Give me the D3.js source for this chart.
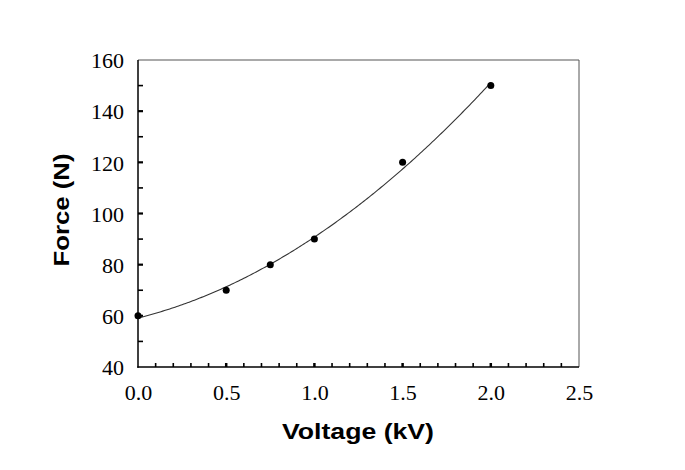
<!DOCTYPE html>
<html>
<head>
<meta charset="utf-8">
<script src="https://cdn.jsdelivr.net/npm/d3@7"></script>
<style>
  html, body { margin: 0; padding: 0; background: #fff; }
  svg { display: block; }
</style>
</head>
<body>
<svg id="chart" width="685" height="470"></svg>
<script>
// Data
const voltage = [0.0, 0.5, 0.75, 1.0, 1.5, 2.0];   // kV
const force   = [60, 70, 80, 90, 120, 150];          // N
const xTickValues = [0.0, 0.5, 1.0, 1.5, 2.0, 2.5];
const xTickLabels = ["0.0", "0.5", "1.0", "1.5", "2.0", "2.5"];
const yTickValues = [40, 60, 80, 100, 120, 140, 160];
const yTickLabels = ["40", "60", "80", "100", "120", "140", "160"];
const xTitle = "Voltage (kV)";
const yTitle = "Force (N)";

const svg = d3.select("#chart");
const L = 138, R = 579, T = 60, B = 367;

const x = d3.scaleLinear().domain([0, 2.5]).range([L, R]);
const y = d3.scaleLinear().domain([40, 160]).range([B, T]);

// Quadratic least-squares trendline fitted to the data points
function quadFit(xs, ys) {
  let s = [0,0,0,0,0], t = [0,0,0];
  xs.forEach((xi, i) => {
    for (let k = 0; k < 5; k++) s[k] += Math.pow(xi, k);
    for (let k = 0; k < 3; k++) t[k] += ys[i] * Math.pow(xi, k);
  });
  const A = [[s[0], s[1], s[2], t[0]], [s[1], s[2], s[3], t[1]], [s[2], s[3], s[4], t[2]]];
  for (let i = 0; i < 3; i++) {
    for (let j = i + 1; j < 3; j++) {
      const f = A[j][i] / A[i][i];
      for (let k = i; k < 4; k++) A[j][k] -= f * A[i][k];
    }
  }
  const c = [0,0,0];
  for (let i = 2; i >= 0; i--) {
    let v = A[i][3];
    for (let k = i + 1; k < 3; k++) v -= A[i][k] * c[k];
    c[i] = v / A[i][i];
  }
  return c;
}
const coef = quadFit(voltage, force);
const curveX = d3.range(0, 2.0001, 0.01);
const line = d3.line().x(d => x(d)).y(d => y(coef[0] + coef[1] * d + coef[2] * d * d));

// Frame: top and right lines (thin grey)
svg.append("line").attr("x1", L).attr("x2", R).attr("y1", T).attr("y2", T)
  .attr("stroke", "#555").attr("stroke-width", 1);
svg.append("line").attr("x1", R).attr("x2", R).attr("y1", T).attr("y2", B)
  .attr("stroke", "#555").attr("stroke-width", 1);

// Minor ticks (inward)
const xMinor = d3.range(0, 25).map(i => i / 10).filter(v => v > 0);
svg.append("g").selectAll("line").data(xMinor).join("line")
  .attr("x1", d => x(d)).attr("x2", d => x(d))
  .attr("y1", B).attr("y2", B - 4)
  .attr("stroke", "#000")
  .attr("stroke-width", d => (Math.round(d * 10) % 5 === 0) ? 2.5 : 1.6);

const yMinor = d3.range(50, 160, 10);
svg.append("g").selectAll("line").data(yMinor).join("line")
  .attr("x1", L).attr("x2", L + 5)
  .attr("y1", d => y(d)).attr("y2", d => y(d))
  .attr("stroke", "#000")
  .attr("stroke-width", d => (d % 20 === 0) ? 2.2 : 1.6);

// Axes via d3 (labels only, ticks drawn above)
const xAxis = d3.axisBottom(x).tickValues(xTickValues)
  .tickFormat((d, i) => xTickLabels[i]).tickSize(0).tickPadding(0);
const gx = svg.append("g").attr("transform", `translate(0,${B})`).call(xAxis);
gx.select(".domain").remove();
gx.selectAll("text").attr("dy", null).attr("y", 33)
  .attr("font-family", "'Liberation Serif', 'Times New Roman', serif")
  .attr("font-size", 22).attr("fill", "#000");

const yAxis = d3.axisLeft(y).tickValues(yTickValues)
  .tickFormat((d, i) => yTickLabels[i]).tickSize(0).tickPadding(14);
const gy = svg.append("g").attr("transform", `translate(${L},0)`).call(yAxis);
gy.select(".domain").remove();
gy.selectAll("text").attr("dy", "0.35em")
  .attr("font-family", "'Liberation Serif', 'Times New Roman', serif")
  .attr("font-size", 22).attr("fill", "#000");

// Left and bottom axis lines
svg.append("line").attr("x1", L).attr("x2", L).attr("y1", T).attr("y2", B + 0.75)
  .attr("stroke", "#000").attr("stroke-width", 1.5);
svg.append("line").attr("x1", L - 0.75).attr("x2", R).attr("y1", B).attr("y2", B)
  .attr("stroke", "#000").attr("stroke-width", 1.5);

// Fit curve
svg.append("path").datum(curveX).attr("d", line)
  .attr("fill", "none").attr("stroke", "#333").attr("stroke-width", 1.1);

// Points
svg.append("g").selectAll("circle").data(voltage).join("circle")
  .attr("cx", d => x(d)).attr("cy", (d, i) => y(force[i]))
  .attr("r", 3.5).attr("fill", "#000");

// Titles
svg.append("text").attr("x", 358).attr("y", 439)
  .attr("text-anchor", "middle")
  .attr("font-family", "'Liberation Sans', Arial, sans-serif")
  .attr("font-weight", "bold").attr("font-size", 22)
  .attr("textLength", 152).attr("lengthAdjust", "spacingAndGlyphs")
  .text(xTitle);

svg.append("text")
  .attr("transform", "translate(69,210) rotate(-90)")
  .attr("text-anchor", "middle")
  .attr("font-family", "'Liberation Sans', Arial, sans-serif")
  .attr("font-weight", "bold").attr("font-size", 22)
  .attr("textLength", 113).attr("lengthAdjust", "spacingAndGlyphs")
  .text(yTitle);
</script>
</body>
</html>
